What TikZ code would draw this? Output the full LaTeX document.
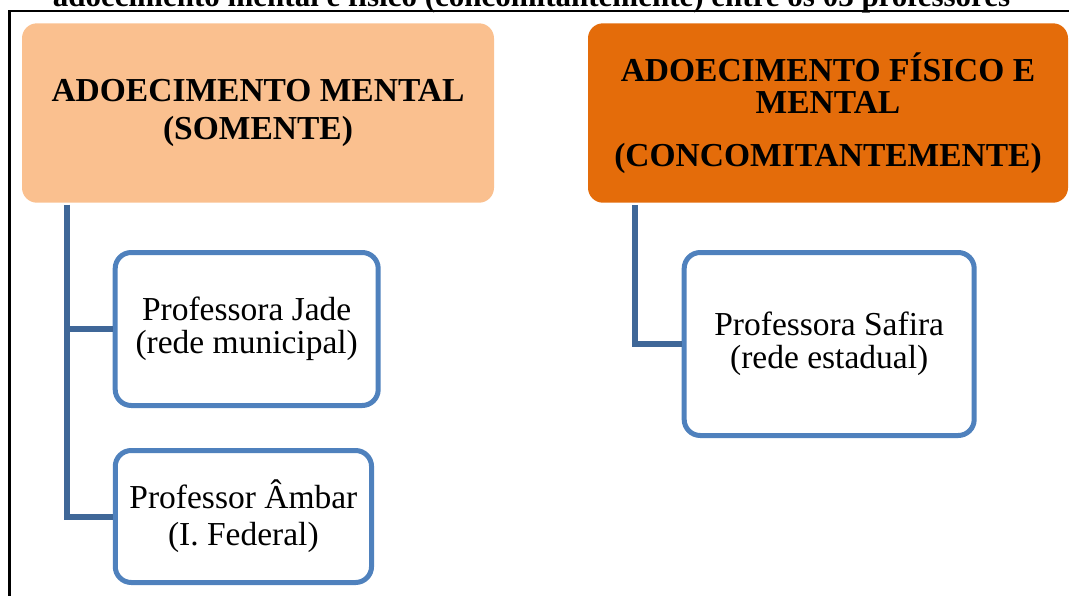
\documentclass[tikz,border=0pt]{standalone}
\usepackage{fontspec}
\setmainfont{Liberation Serif}
\definecolor{laranjaclaro}{HTML}{FAC08F}
\definecolor{laranjaescuro}{HTML}{E46C0A}
\definecolor{azulborda}{HTML}{4F81BD}
\definecolor{azullinha}{HTML}{3F6798}

\begin{document}
\begin{tikzpicture}[x=1pt,y=-1pt,
        cabecalho/.style={rounded corners=15pt, inner sep=0pt, align=center},
        professor/.style={draw=azulborda, line width=5pt, fill=white, rounded corners=16pt, inner sep=0pt, align=center, font=\fontsize{33.5}{33.3}\selectfont},
        ligacao/.style={draw=azullinha, line width=6pt}]
        \useasboundingbox (0,0) rectangle (1069,595);
        \clip (0,0) rectangle (1069,595);
        % titulo cortado no topo
        \node[anchor=base, inner sep=0pt, font=\bfseries\fontsize{31}{31}\selectfont] (titulo) at (531.5,6) {adoecimento mental e físico (concomitantemente) entre os 03 professores};
        \draw[black, line width=2.5pt](9.5,600)--(9.5,11)--(1075,11);
        % cabecalhos
        \node[cabecalho, fill=laranjaclaro, minimum width=472pt, minimum height=179.4pt, font=\bfseries\fontsize{33.5}{38}\selectfont] (mental) at (258,113) {ADOECIMENTO MENTAL\\(SOMENTE)};
        \node[cabecalho, fill=laranjaescuro, minimum width=480pt, minimum height=179.4pt, font=\bfseries\fontsize{33.5}{32}\selectfont] (fisico) at (828,113) {ADOECIMENTO FÍSICO E\\MENTAL\\[21pt](CONCOMITANTEMENTE)};
        % professores
        \node[professor, minimum width=263pt, minimum height=153pt] (jade) at (246.7,329) {Professora Jade\\(rede municipal)};
        \node[professor, minimum width=256.3pt, minimum height=132pt] (ambar) at (243.4,516.5) {Professor Âmbar\\[3.5pt](I. Federal)};
        \node[professor, minimum width=290pt, minimum height=183pt] (safira) at (829.2,344) {Professora Safira\\(rede estadual)};
        % ligacoes
        \draw[ligacao]([xshift=45.5pt,yshift=-2pt]mental.south west)|-(jade.west);
        \draw[ligacao]([xshift=45.5pt,yshift=-2pt]mental.south west)|-(ambar.west);
        \draw[ligacao]([xshift=47pt,yshift=-2pt]fisico.south west)|-(safira.west);
    \end{tikzpicture}
\end{document}
